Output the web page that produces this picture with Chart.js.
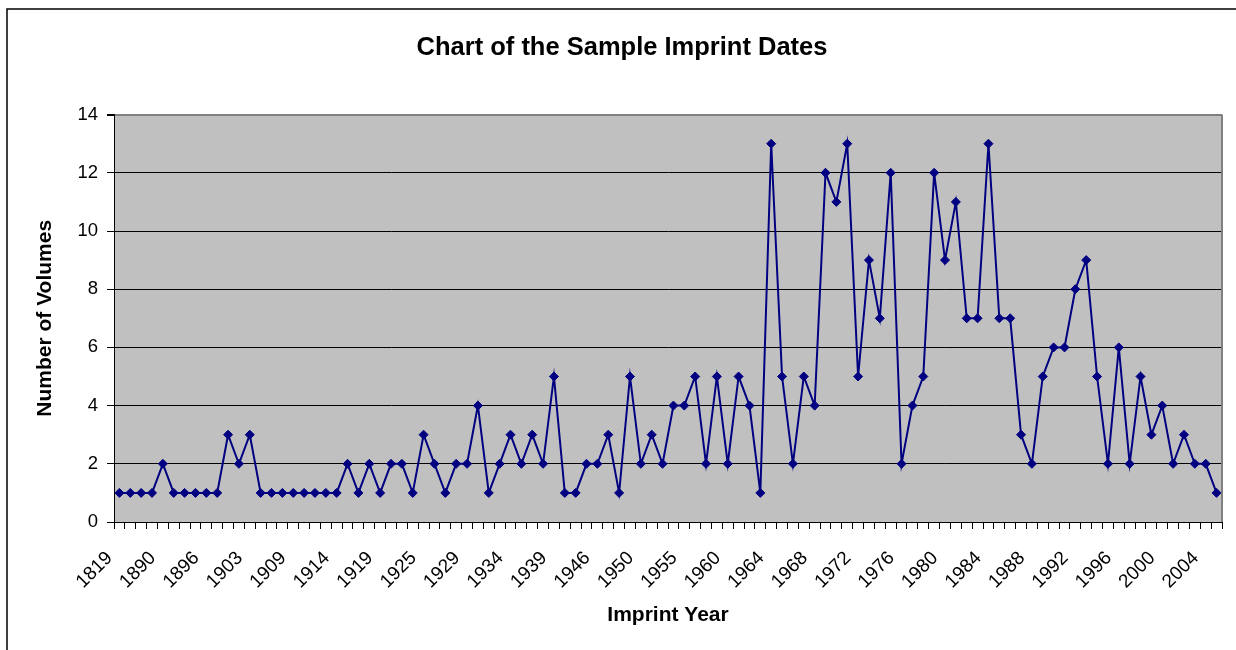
<!DOCTYPE html>
<html lang="en">
<head>
  <meta charset="UTF-8">
  <title>Chart of the Sample Imprint Dates</title>
  <script src="https://cdn.jsdelivr.net/npm/chart.js"></script>
  <style>
    body {
      margin: 0;
      padding: 0;
      background: #fff;
    }
  </style>
</head>
<body>
  <canvas id="imprintChart" width="1236" height="650"></canvas>

  <script>
    // labels shown under every 4th category
    const tickYears = ['1819', '1890', '1896', '1903', '1909', '1914', '1919', '1925', '1929',
      '1934', '1939', '1946', '1950', '1955', '1960', '1964', '1968', '1972', '1976', '1980',
      '1984', '1988', '1992', '1996', '2000', '2004'];

    // number of volumes per imprint year (102 categories)
    const volumes = [
      1, 1, 1, 1, 2, 1, 1, 1, 1, 1, 3, 2, 3, 1, 1, 1, 1, 1, 1, 1,
      1, 2, 1, 2, 1, 2, 2, 1, 3, 2, 1, 2, 2, 4, 1, 2, 3, 2, 3, 2,
      5, 1, 1, 2, 2, 3, 1, 5, 2, 3, 2, 4, 4, 5, 2, 5, 2, 5, 4, 1,
      13, 5, 2, 5, 4, 12, 11, 13, 5, 9, 7, 12, 2, 4, 5, 12, 9, 11, 7, 7,
      13, 7, 7, 3, 2, 5, 6, 6, 8, 9, 5, 2, 6, 2, 5, 3, 4, 2, 3, 2,
      2, 1
    ];

    const labels = volumes.map((v, i) => (i % 4 === 0 && tickYears[i / 4]) ? tickYears[i / 4] : '');

    const fontFam = '"Liberation Sans", Arial, sans-serif';

    // fondo blanco, marco exterior, area gris y borde derecho
    const frame = {
      id: 'frame',
      beforeDraw(chart) {
        const { ctx, chartArea: a } = chart;
        ctx.save();
        ctx.fillStyle = '#fff';
        ctx.fillRect(0, 0, chart.width, chart.height);
        ctx.strokeStyle = '#000';
        ctx.lineWidth = 1.5;
        ctx.strokeRect(7, 9, chart.width + 20, chart.height + 20);
        ctx.fillStyle = '#c0c0c0';
        ctx.fillRect(a.left, a.top, a.right - a.left, a.bottom - a.top);
        ctx.restore();
      },
      beforeDatasetsDraw(chart) {
        const { ctx, chartArea: a } = chart;
        ctx.save();
        ctx.strokeStyle = '#808080';
        ctx.lineWidth = 2;
        ctx.beginPath();
        ctx.moveTo(a.right, a.top);
        ctx.lineTo(a.right, a.bottom);
        ctx.stroke();
        ctx.restore();
      }
    };

    new Chart(document.getElementById('imprintChart'), {
      type: 'line',
      data: {
        labels: labels,
        datasets: [{
          data: volumes,
          borderColor: '#000080',
          borderWidth: 2,
          backgroundColor: '#000080',
          pointStyle: 'rectRot',
          pointRadius: 4.5,
          pointBorderWidth: 1,
          pointBorderColor: '#000080',
          pointBackgroundColor: '#000080',
          tension: 0
        }]
      },
      options: {
        responsive: false,
        animation: false,
        layout: { padding: { left: 8, right: 0, top: 0, bottom: 0 } },
        plugins: {
          legend: { display: false },
          tooltip: { enabled: false },
          title: {
            display: true,
            text: 'Chart of the Sample Imprint Dates',
            color: '#000',
            font: { family: fontFam, size: 25.5, weight: 'bold' },
            padding: { top: 33, bottom: 51 }
          }
        },
        scales: {
          x: {
            offset: true,
            grid: {
              offset: true,
              drawOnChartArea: false,
              drawTicks: true,
              tickLength: 7,
              color: '#000'
            },
            border: { color: '#000', width: 1 },
            ticks: {
              autoSkip: false,
              maxRotation: 45,
              minRotation: 45,
              padding: 18,
              labelOffset: -10,
              color: '#000',
              font: { family: fontFam, size: 19 }
            },
            title: {
              display: true,
              text: 'Imprint Year',
              color: '#000',
              font: { family: fontFam, size: 21, weight: 'bold' },
              padding: { top: 0, bottom: 22 }
            },
            afterFit: s => {
              s.height = 128;
              s.paddingLeft = 0;
              s.paddingRight = 14;
            }
          },
          y: {
            min: 0,
            max: 14,
            ticks: {
              stepSize: 2,
              padding: 9,
              color: '#000',
              font: { family: fontFam, size: 18.5 }
            },
            grid: {
              color: c => (c.tick && c.tick.value === 14) ? '#808080' : '#000',
              lineWidth: c => (c.tick && c.tick.value === 14) ? 2 : 1,
              tickColor: '#000',
              tickLength: 7
            },
            border: { color: '#000', width: 1 },
            title: {
              display: true,
              text: 'Number of Volumes',
              color: '#000',
              font: { family: fontFam, size: 21, weight: 'bold' },
              padding: { top: 25, bottom: 0 }
            },
            afterFit: s => { s.width = 106; }
          }
        }
      },
      plugins: [frame]
    });
  </script>
</body>
</html>
